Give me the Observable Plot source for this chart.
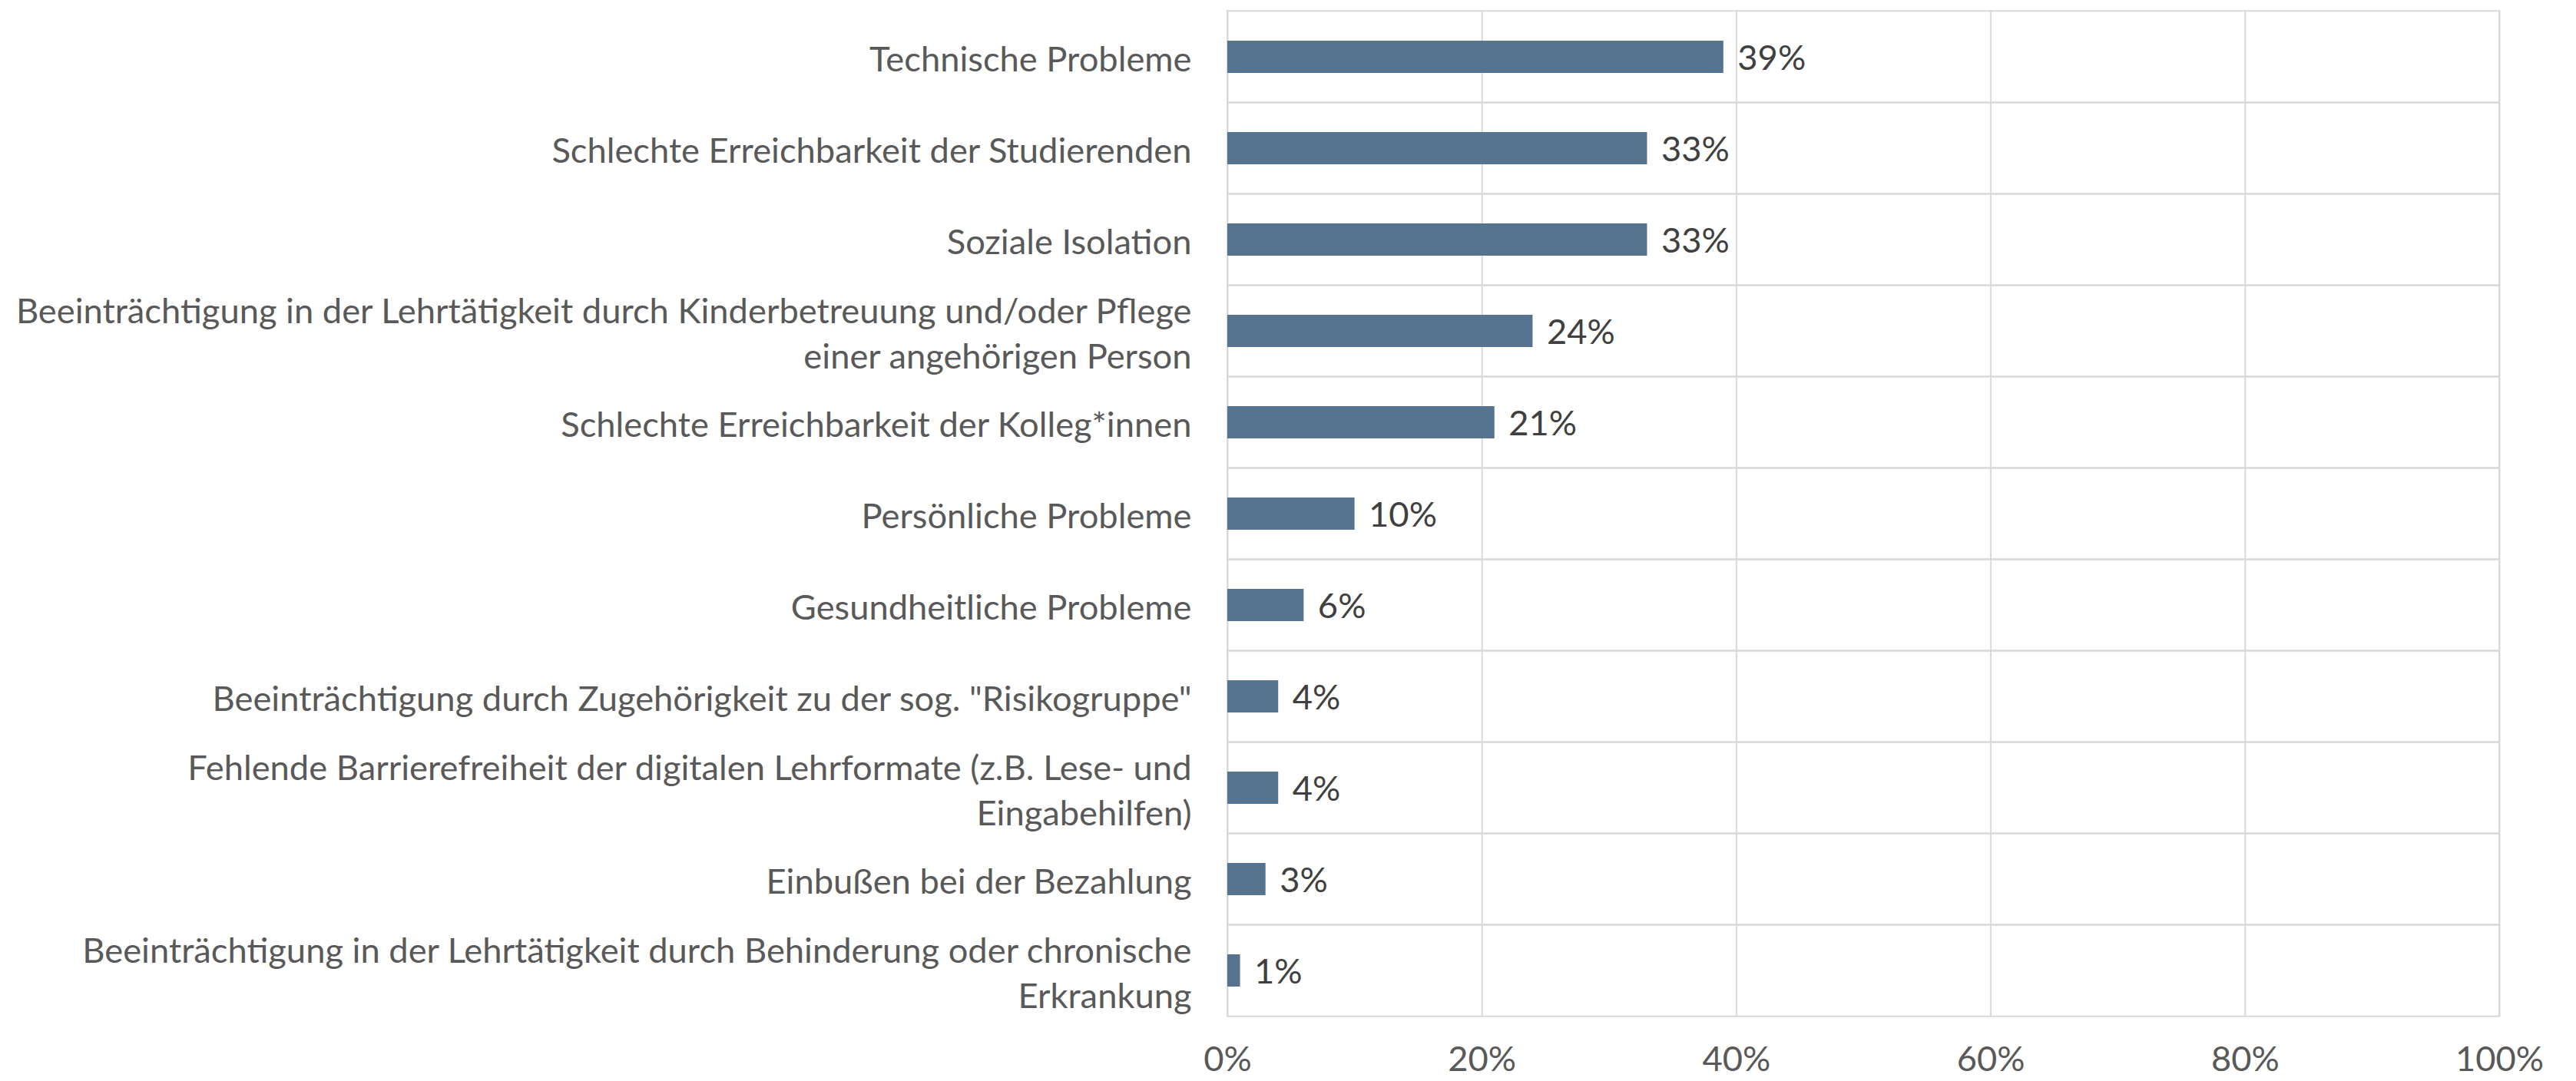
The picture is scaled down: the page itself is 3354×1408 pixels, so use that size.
<!DOCTYPE html>
<html>
<head>
<meta charset="utf-8">
<script src="https://cdn.jsdelivr.net/npm/d3@7"></script>
<script src="https://cdn.jsdelivr.net/npm/@observablehq/plot@0.6"></script>
<style>
  html, body { margin: 0; padding: 0; background: #ffffff; overflow: hidden; }
  #chart svg { display: block; }
</style>
</head>
<body>
<div id="chart"></div>
<script>
const categories = [
  "Technische Probleme",
  "Schlechte Erreichbarkeit der Studierenden",
  "Soziale Isolation",
  "Beeinträchtigung in der Lehrtätigkeit durch Kinderbetreuung und/oder Pflege einer angehörigen Person",
  "Schlechte Erreichbarkeit der Kolleg*innen",
  "Persönliche Probleme",
  "Gesundheitliche Probleme",
  "Beeinträchtigung durch Zugehörigkeit zu der sog. \"Risikogruppe\"",
  "Fehlende Barrierefreiheit der digitalen Lehrformate (z.B. Lese- und Eingabehilfen)",
  "Einbußen bei der Bezahlung",
  "Beeinträchtigung in der Lehrtätigkeit durch Behinderung oder chronische Erkrankung"
];
const labels = [
  "Technische Probleme",
  "Schlechte Erreichbarkeit der Studierenden",
  "Soziale Isolation",
  "Beeinträchtigung in der Lehrtätigkeit durch Kinderbetreuung und/oder Pflege\neiner angehörigen Person",
  "Schlechte Erreichbarkeit der Kolleg*innen",
  "Persönliche Probleme",
  "Gesundheitliche Probleme",
  "Beeinträchtigung durch Zugehörigkeit zu der sog. \"Risikogruppe\"",
  "Fehlende Barrierefreiheit der digitalen Lehrformate (z.B. Lese- und\nEingabehilfen)",
  "Einbußen bei der Bezahlung",
  "Beeinträchtigung in der Lehrtätigkeit durch Behinderung oder chronische\nErkrankung"
];
const values = [0.39, 0.33, 0.33, 0.24, 0.21, 0.10, 0.06, 0.04, 0.04, 0.03, 0.01];
const xTicks = [0, 0.2, 0.4, 0.6, 0.8, 1.0];

const data = categories.map((c, i) => ({category: c, label: labels[i], value: values[i]}));
const labelOf = new Map(data.map(d => [d.category, d.label]));

const W = 3354, H = 1408;
const mTop = 13, mBottom = 84, mLeft = 1598, mRight = 100;
const padInner = 0.65;
const step = (H - mTop - mBottom) / categories.length;
const ext = padInner * step / 2;
const FONT = "Lato, 'Open Sans', sans-serif";
const FS = 45.3;

const chart = Plot.plot({
  width: W,
  height: H,
  marginTop: mTop,
  marginBottom: mBottom,
  marginLeft: mLeft,
  marginRight: mRight,
  style: {fontFamily: FONT, fontSize: FS + "px", background: "#ffffff"},
  x: {domain: [0, 1]},
  y: {domain: categories, paddingInner: padInner, paddingOuter: padInner / 2},
  marks: [
    // row separators and outer frame
    Plot.barX(data, {y: "category", x1: 0, x2: 1, fill: "none", stroke: "#d9d9d9", strokeWidth: 2, insetTop: -ext, insetBottom: -ext}),
    Plot.gridX(xTicks, {stroke: "#d9d9d9", strokeWidth: 2, strokeOpacity: 1}),
    Plot.barX(data, {y: "category", x: "value", fill: "#56738f"}),
    Plot.text(data, {y: "category", x: "value", text: d => `${Math.round(d.value * 100)}%`, textAnchor: "start", dx: 18, dy: 2, fill: "#404040", fontSize: FS}),
    Plot.axisY({tickSize: 0, tickPadding: 47, tickFormat: d => labelOf.get(d), fill: "#595959", fontSize: FS, lineHeight: 1.3, label: null}),
    Plot.axisX(xTicks, {tickSize: 0, tickPadding: 38, tickFormat: d3.format(".0%"), fill: "#595959", fontSize: FS, label: null})
  ]
});
document.getElementById("chart").appendChild(chart);
</script>
</body>
</html>
